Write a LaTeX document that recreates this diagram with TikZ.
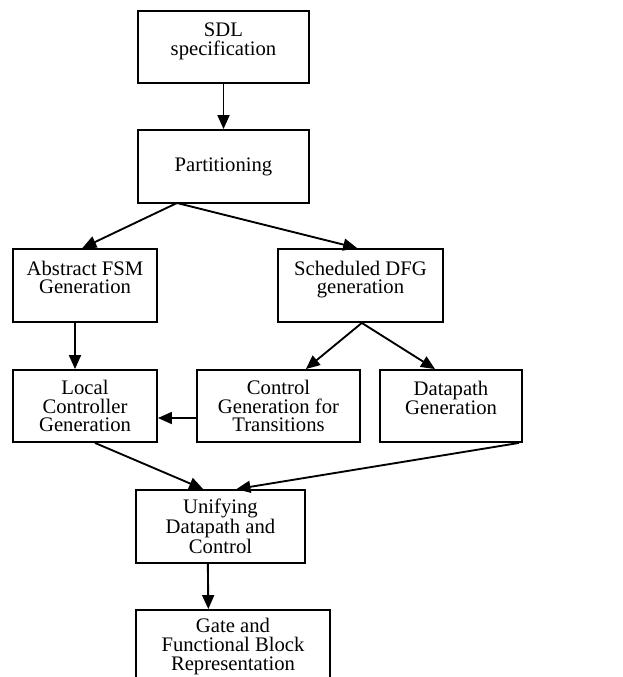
\documentclass[tikz,border=0pt]{standalone}
\usepackage{fontspec}
\setmainfont{Liberation Serif}
\usepackage{tikz}
\usetikzlibrary{arrows.meta}

\tikzset{
  flowbox/.style={draw, line width=1.4pt, rectangle, align=center, inner sep=0.75pt,
    font=\fontsize{15.5}{14}\selectfont},
  flowarrow/.style={line width=1.4pt, -{Triangle[length=10.5pt,width=9pt]}}
}

\begin{document}
\begin{tikzpicture}[x=0.75pt,y=0.75pt,yscale=-1,xscale=1]
\clip (0,0) rectangle (622,677);
\useasboundingbox (0,0) rectangle (622,677);

% Boxes
\node [flowbox, minimum width=128.25pt, minimum height=54pt] (sdl) at (223.5,47) {SDL\\specification\\[-6pt] \strut};
\node [flowbox, minimum width=128.25pt, minimum height=54.75pt] (part) at (223.5,166.5) {Partitioning};
\node [flowbox, minimum width=108pt, minimum height=54.75pt] (afsm) at (85,285.5) {Abstract FSM\\Generation\\[-6pt] \strut};
\node [flowbox, minimum width=123.75pt, minimum height=54.75pt] (sdfg) at (360.5,285.5) {Scheduled DFG\\generation\\[-6pt] \strut};
\node [flowbox, minimum width=108pt, minimum height=54pt] (lctrl) at (85,406) {Local\\Controller\\Generation};
\node [flowbox, minimum width=122.25pt, minimum height=54pt] (ctrans) at (278.5,406) {Control\\Generation for\\Transitions};
\node [flowbox, minimum width=106.5pt, minimum height=54pt] (dpgen) at (451,406) {Datapath\\Generation\\[-6pt] \strut};
\node [flowbox, minimum width=126.75pt, minimum height=54.75pt] (unify) at (220.5,526.5) {Unifying\\Datapath and\\Control};
\node [flowbox, minimum width=145.5pt, minimum height=54.75pt] (gate) at (233,646.5) {Gate and\\Functional Block\\Representation};

% Connectors
\coordinate (split) at (177,203);
\draw [flowarrow] (sdl) -- (part);
\draw [flowarrow] (split) -- ([xshift=-2pt]afsm.north);
\draw [flowarrow] (split) -- ([xshift=-2.5pt]sdfg.north);
\draw [flowarrow] ([xshift=-7.5pt]afsm.south) -- ([xshift=-7.5pt]lctrl.north);
\draw [flowarrow] ([xshift=1pt]sdfg.south) -- ([xshift=20.5pt]ctrans.north);
\draw [flowarrow] ([xshift=1pt]sdfg.south) -- ([xshift=-12pt]dpgen.north);
\draw [flowarrow] ([yshift=9pt]ctrans.west) -- ([yshift=9pt]lctrl.east);
\draw [flowarrow] ([xshift=7.5pt]lctrl.south) -- ([xshift=-13pt]unify.north);
\draw [flowarrow] ([xshift=-3pt]dpgen.south east) -- ([xshift=12pt]unify.north);
\draw [flowarrow] ([xshift=-9.5pt]unify.south) -- ([xshift=-18.5pt]gate.north);
\end{tikzpicture}
\end{document}
